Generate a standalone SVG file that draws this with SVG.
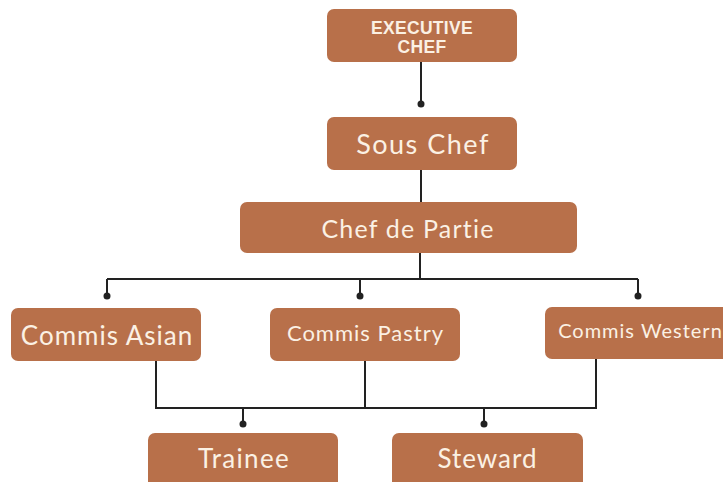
<svg xmlns="http://www.w3.org/2000/svg" width="723" height="482" viewBox="0 0 723 482">
<style>
.box{fill:#B8704A}
.t{fill:#FBF1E4;font-family:Lato,"Open Sans","Liberation Sans",sans-serif;text-anchor:middle;dominant-baseline:central}
.b{font-family:"Liberation Sans",Arial,sans-serif;font-weight:bold;font-size:17.5px;letter-spacing:0.3px}
.ln{stroke:#222;stroke-width:2;fill:none}
.dot{fill:#222}
</style>
<rect width="723" height="482" fill="#fff"/>
<g id="connectors">
<path class="ln" d="M421 62V104"/>
<circle class="dot" cx="421" cy="104" r="3.5"/>
<path class="ln" d="M421 170V202"/>
<path class="ln" d="M420 253V279M107 279H638M107 279V296M360 279V296M638 279V296"/>
<circle class="dot" cx="107" cy="296" r="3.5"/>
<circle class="dot" cx="360" cy="296" r="3.5"/>
<circle class="dot" cx="638" cy="296" r="3.5"/>
<path class="ln" d="M156 361V408H596V359M365 361V408M243 408V424M484 408V424"/>
<circle class="dot" cx="243" cy="424" r="3.5"/>
<circle class="dot" cx="484" cy="424" r="3.5"/>
</g>
<g id="executive-chef">
<rect class="box" x="327" y="9" width="190" height="53" rx="7"/>
<text class="t b" x="422" y="28">EXECUTIVE</text>
<text class="t b" x="422" y="47">CHEF</text>
</g>
<g id="sous-chef">
<rect class="box" x="327" y="117" width="190" height="53" rx="7"/>
<text class="t" x="423" y="143" font-size="27" letter-spacing="1.5">Sous Chef</text>
</g>
<g id="chef-de-partie">
<rect class="box" x="240" y="202" width="337" height="51" rx="7"/>
<text class="t" x="408" y="228" font-size="25" letter-spacing="1.2">Chef de Partie</text>
</g>
<g id="commis-asian">
<rect class="box" x="11" y="308" width="190" height="53" rx="7"/>
<text class="t" x="107" y="335" font-size="26" letter-spacing="1">Commis Asian</text>
</g>
<g id="commis-pastry">
<rect class="box" x="270" y="308" width="190" height="53" rx="7"/>
<text class="t" x="365.5" y="332" font-size="22" letter-spacing="1">Commis Pastry</text>
</g>
<g id="commis-western">
<rect class="box" x="545" y="307" width="190" height="52" rx="7"/>
<text class="t" x="640.5" y="330" font-size="20" letter-spacing="1">Commis Western</text>
</g>
<g id="trainee">
<rect class="box" x="148" y="433" width="190" height="60" rx="7"/>
<text class="t" x="244" y="458" font-size="26" letter-spacing="1.3">Trainee</text>
</g>
<g id="steward">
<rect class="box" x="392" y="433" width="191" height="60" rx="7"/>
<text class="t" x="487.5" y="458" font-size="26" letter-spacing="1">Steward</text>
</g>
</svg>
